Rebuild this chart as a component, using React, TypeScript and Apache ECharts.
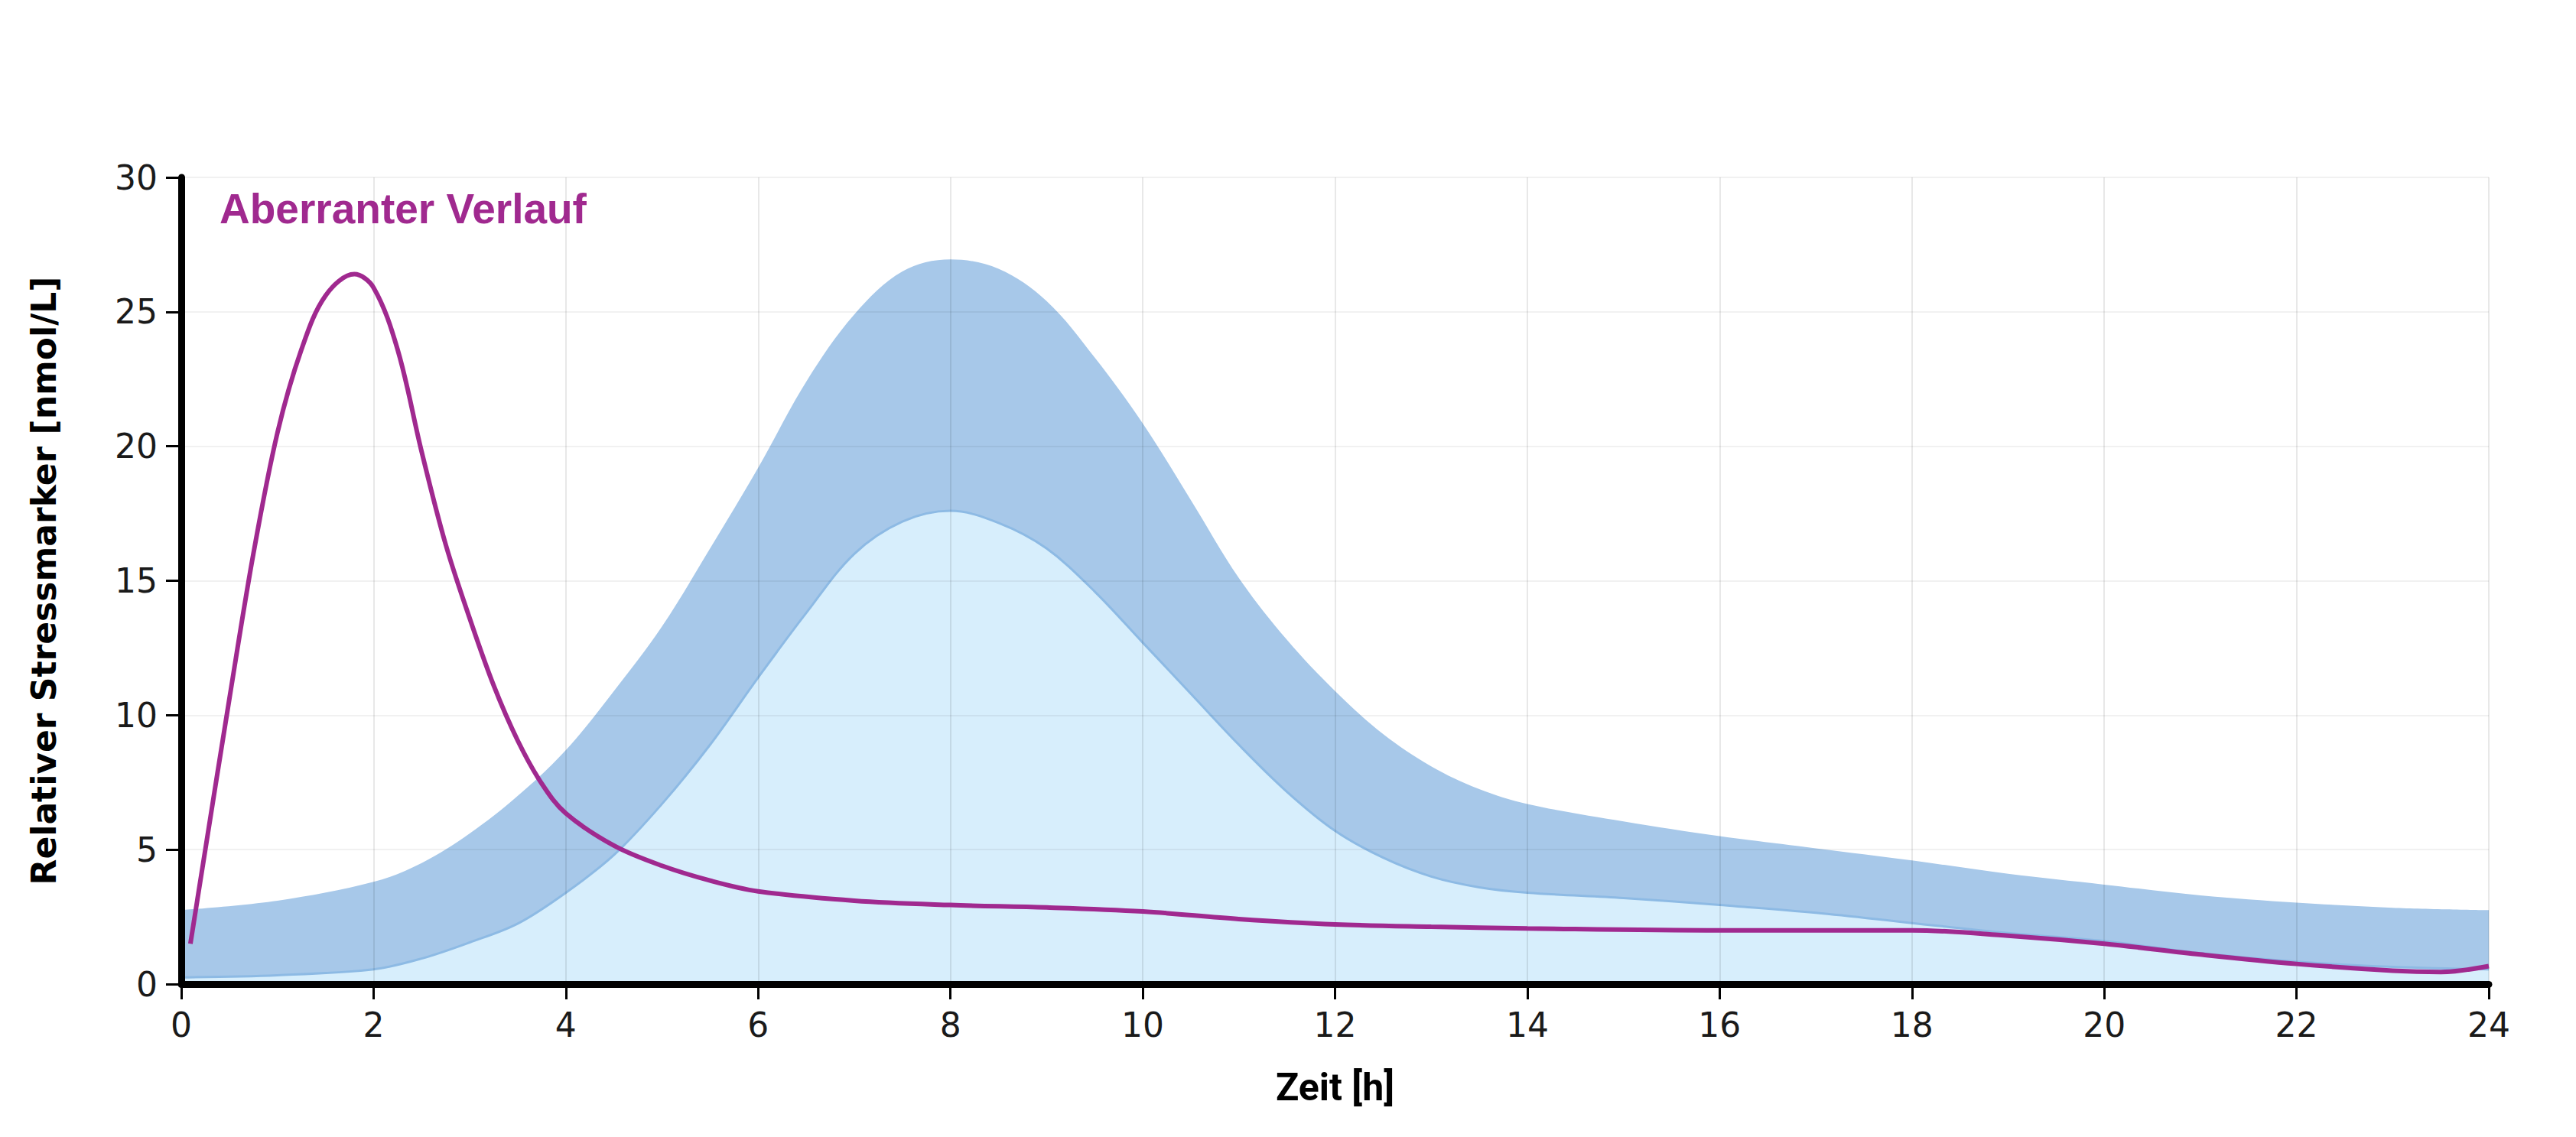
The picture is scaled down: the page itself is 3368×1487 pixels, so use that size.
import React, { useEffect, useRef } from "react";
import * as echarts from "echarts";

// Normal range band (hours, upper / lower boundary in nmol/L)
const bandHours = [0, 1, 2, 2.5, 3, 3.5, 4, 4.5, 5, 5.5, 6, 6.5, 7, 7.5, 8, 8.5, 9, 9.5, 10, 10.5, 11, 11.5, 12, 12.5, 13, 13.5, 14, 15, 16, 17, 18, 19, 20, 21, 22, 23, 24];
const upperBound = [2.75, 3.1, 3.8, 4.5, 5.6, 7.0, 8.7, 10.9, 13.3, 16.2, 19.2, 22.4, 24.9, 26.5, 26.95, 26.6, 25.4, 23.3, 20.85, 18.0, 15.1, 12.8, 10.9, 9.3, 8.1, 7.25, 6.7, 6.05, 5.5, 5.05, 4.6, 4.1, 3.7, 3.3, 3.03, 2.84, 2.75];
const lowerBound = [0.25, 0.33, 0.55, 0.95, 1.55, 2.25, 3.4, 4.8, 6.7, 8.9, 11.4, 13.8, 16.0, 17.2, 17.6, 17.15, 16.2, 14.6, 12.7, 10.8, 8.9, 7.15, 5.7, 4.7, 4.0, 3.6, 3.4, 3.2, 2.94, 2.65, 2.27, 1.9, 1.6, 1.15, 0.83, 0.64, 0.55];

// Aberrant course
const aberrantHours = [0.095, 0.25, 0.5, 0.75, 1.0, 1.25, 1.5, 1.8, 2.0, 2.25, 2.5, 2.75, 3.0, 3.25, 3.5, 3.75, 4.0, 4.5, 5.0, 5.5, 6, 7, 8, 9, 10, 11, 12, 13, 14, 16, 18, 19, 20, 21, 22, 23, 23.5, 24];
const aberrantValues = [1.5, 5.0, 10.6, 16.0, 20.5, 23.6, 25.6, 26.4, 25.9, 23.6, 19.8, 16.35, 13.6, 11.1, 9.05, 7.45, 6.35, 5.15, 4.4, 3.85, 3.45, 3.1, 2.94, 2.85, 2.7, 2.42, 2.22, 2.13, 2.07, 2.0, 2.0, 1.8, 1.5, 1.1, 0.75, 0.5, 0.45, 0.67];

const xName = "Zeit [h]";
const yName = "Relativer Stressmarker [nmol/L]";
const annotation = "Aberranter Verlauf";

const PURPLE = "#a0298f";
const SMOOTH = 0.35;

export default function App() {
  const ref = useRef<HTMLDivElement>(null);

  useEffect(() => {
    if (!ref.current) return;
    const chart = echarts.init(ref.current, null, { renderer: "svg" });

    const upperData = bandHours.map((h, i) => [h, upperBound[i]]);
    const lowerData = bandHours.map((h, i) => [h, lowerBound[i]]);
    const aberrantData = aberrantHours.map((h, i) => [h, aberrantValues[i]]);

    const tickLabel = { fontFamily: "DejaVu Sans", fontSize: 44, color: "#1a1a1a" };

    chart.setOption({
      animation: false,
      backgroundColor: "#ffffff",
      grid: { left: 237, right: 114, top: 232, bottom: 200, containLabel: false },
      xAxis: {
        type: "value",
        min: 0,
        max: 24,
        interval: 2,
        z: 10,
        name: xName,
        nameLocation: "middle",
        nameGap: 110,
        nameTextStyle: { fontFamily: "Roboto", fontWeight: "bold", fontSize: 50, color: "#000" },
        axisLine: { show: true, onZero: false, lineStyle: { color: "#000", width: 9 } },
        axisTick: { show: true, length: 20, lineStyle: { color: "#000", width: 3 } },
        axisLabel: { ...tickLabel, margin: 31 },
        splitLine: { show: true, lineStyle: { color: "rgba(0,0,0,0.09)", width: 2 } },
      },
      yAxis: {
        type: "value",
        min: 0,
        max: 30,
        interval: 5,
        z: 10,
        name: yName,
        nameLocation: "middle",
        nameGap: 158,
        nameTextStyle: { fontFamily: "DejaVu Sans", fontWeight: "bold", fontSize: 44, color: "#000" },
        axisLine: { show: true, onZero: false, lineStyle: { color: "#000", width: 9 } },
        axisTick: { show: true, length: 20, lineStyle: { color: "#000", width: 3 } },
        axisLabel: { ...tickLabel, margin: 31 },
        splitLine: { show: true, lineStyle: { color: "rgba(0,0,0,0.055)", width: 2 } },
      },
      graphic: [
        {
          type: "text",
          x: 287,
          y: 273,
          z: 20,
          style: {
            text: annotation,
            fill: PURPLE,
            fontFamily: "Liberation Sans, Arial, sans-serif",
            fontWeight: "bold",
            fontSize: 55,
            align: "left",
            verticalAlign: "middle",
          },
        },
      ],
      series: [
        {
          name: "upper",
          type: "line",
          data: upperData,
          smooth: SMOOTH,
          showSymbol: false,
          z: 2,
          lineStyle: { width: 0, color: "#a7c8e9" },
          areaStyle: { color: "#a7c8e9", opacity: 1 },
        },
        {
          name: "lower",
          type: "line",
          data: lowerData,
          smooth: SMOOTH,
          showSymbol: false,
          z: 3,
          lineStyle: { color: "#8dbae4", width: 3 },
          areaStyle: { color: "rgb(215,238,252)", opacity: 1 },
        },
        {
          name: "aberrant",
          type: "line",
          data: aberrantData,
          smooth: SMOOTH,
          showSymbol: false,
          z: 12,
          lineStyle: { color: PURPLE, width: 6 },
        },
      ],
    });

    return () => chart.dispose();
  }, []);

  return (
    <div
      ref={ref}
      style={{ position: "fixed", left: 0, top: 0, width: 3368, height: 1487, background: "#fff" }}
    />
  );
}
